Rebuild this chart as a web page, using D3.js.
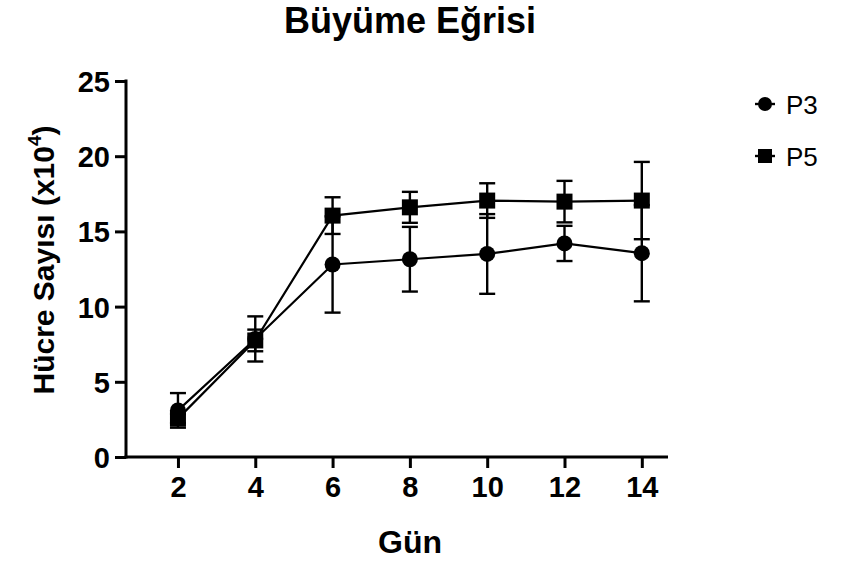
<!DOCTYPE html>
<html><head><meta charset="utf-8">
<script src="https://cdn.jsdelivr.net/npm/d3@7"></script>
<style>body{margin:0;background:#fff}svg{display:block}</style>
</head><body>
<svg id="c" width="848" height="563"></svg>
<script>
const days = [2, 4, 6, 8, 10, 12, 14];
const p3Mean = [3.1, 7.85, 12.8, 13.15, 13.5, 14.2, 13.55];
const p3Err  = [1.15, 1.5, 3.2, 2.15, 2.65, 1.17, 3.2];
const p5Mean = [2.55, 7.75, 16.05, 16.6, 17.05, 16.98, 17.05];
const p5Err  = [0.3, 0.72, 1.22, 1.03, 1.15, 1.38, 2.57];
const yTicks = [0, 5, 10, 15, 20, 25];
const seriesNames = ["P3", "P5"];

const svg = d3.select("#c");
const font = "Liberation Sans, Arial, sans-serif";
const x = d3.scaleLinear().domain([0.63, 14.6]).range([125, 665]);
const y = d3.scaleLinear().domain([0, 25]).range([457, 81]);

svg.append("text").attr("x", 410).attr("y", 33).attr("text-anchor", "middle")
  .attr("font-family", font).attr("font-weight", "bold").attr("font-size", 36).text("Büyüme Eğrisi");

const yAxis = svg.append("g").attr("transform", "translate(126,0)")
  .call(d3.axisLeft(y).tickValues(yTicks).tickSize(11).tickPadding(5));
const xAxis = svg.append("g").attr("transform", "translate(0,457)")
  .call(d3.axisBottom(x).tickValues(days).tickSize(11).tickPadding(8));
[yAxis, xAxis].forEach(g => {
  g.attr("font-size", 29);
  g.select(".domain").attr("stroke", "#000").attr("stroke-width", 3);
  g.selectAll(".tick line").attr("stroke", "#000").attr("stroke-width", 3);
  g.selectAll(".tick text").attr("font-family", font).attr("font-weight", "bold")
    .style("font-size", "29px").attr("fill", "#000");
});
yAxis.selectAll(".tick text").attr("dy", "0.36em");
yAxis.select(".domain").attr("d", `M0,${y(25) - 1.5}V${y(0) + 1.5}`);
xAxis.select(".domain").attr("d", `M124.5,0H668`);

svg.append("text").attr("transform", "translate(54,260) rotate(-90)").attr("text-anchor", "middle")
  .attr("font-family", font).attr("font-weight", "bold").attr("font-size", 30)
  .html('Hücre Sayısı (x10<tspan dy="-13" font-size="19">4</tspan><tspan dy="13">)</tspan>');

svg.append("text").attr("x", 410).attr("y", 553).attr("text-anchor", "middle")
  .attr("font-family", font).attr("font-weight", "bold").attr("font-size", 32).text("Gün");

const series = [
  {name: seriesNames[0], mean: p3Mean, err: p3Err, shape: "circle"},
  {name: seriesNames[1], mean: p5Mean, err: p5Err, shape: "square"}
];
const line = d3.line().x(d => x(d[0])).y(d => y(d[1]));

series.forEach(s => {
  const g = svg.append("g");
  const pts = days.map((d, i) => [d, s.mean[i], s.err[i]]);
  pts.forEach(p => {
    const cx = x(p[0]), top = y(p[1] + p[2]), bot = y(p[1] - p[2]);
    g.append("line").attr("x1", cx).attr("x2", cx).attr("y1", top).attr("y2", bot)
      .attr("stroke", "#000").attr("stroke-width", 2.4);
    [top, bot].forEach(yy => g.append("line").attr("x1", cx - 8).attr("x2", cx + 8)
      .attr("y1", yy).attr("y2", yy).attr("stroke", "#000").attr("stroke-width", 2.4));
  });
  g.append("path").attr("d", line(pts)).attr("fill", "none").attr("stroke", "#000").attr("stroke-width", 2.2);
  pts.forEach(p => {
    if (s.shape === "circle") g.append("circle").attr("cx", x(p[0])).attr("cy", y(p[1])).attr("r", 8).attr("fill", "#000");
    else g.append("rect").attr("x", x(p[0]) - 8).attr("y", y(p[1]) - 8).attr("width", 16).attr("height", 16).attr("fill", "#000");
  });
});

// legend
series.forEach((s, i) => {
  const ly = 104 + i * 52, lx = 765;
  svg.append("line").attr("x1", lx - 10).attr("x2", lx + 10).attr("y1", ly).attr("y2", ly)
    .attr("stroke", "#000").attr("stroke-width", 2.4);
  if (s.shape === "circle") svg.append("circle").attr("cx", lx).attr("cy", ly).attr("r", 7).attr("fill", "#000");
  else svg.append("rect").attr("x", lx - 7).attr("y", ly - 7).attr("width", 14).attr("height", 14).attr("fill", "#000");
  svg.append("text").attr("x", 786).attr("y", ly + 9.5).attr("font-family", font).attr("font-size", 26)
    .attr("fill", "#000").text(s.name);
});
</script>
</body></html>
